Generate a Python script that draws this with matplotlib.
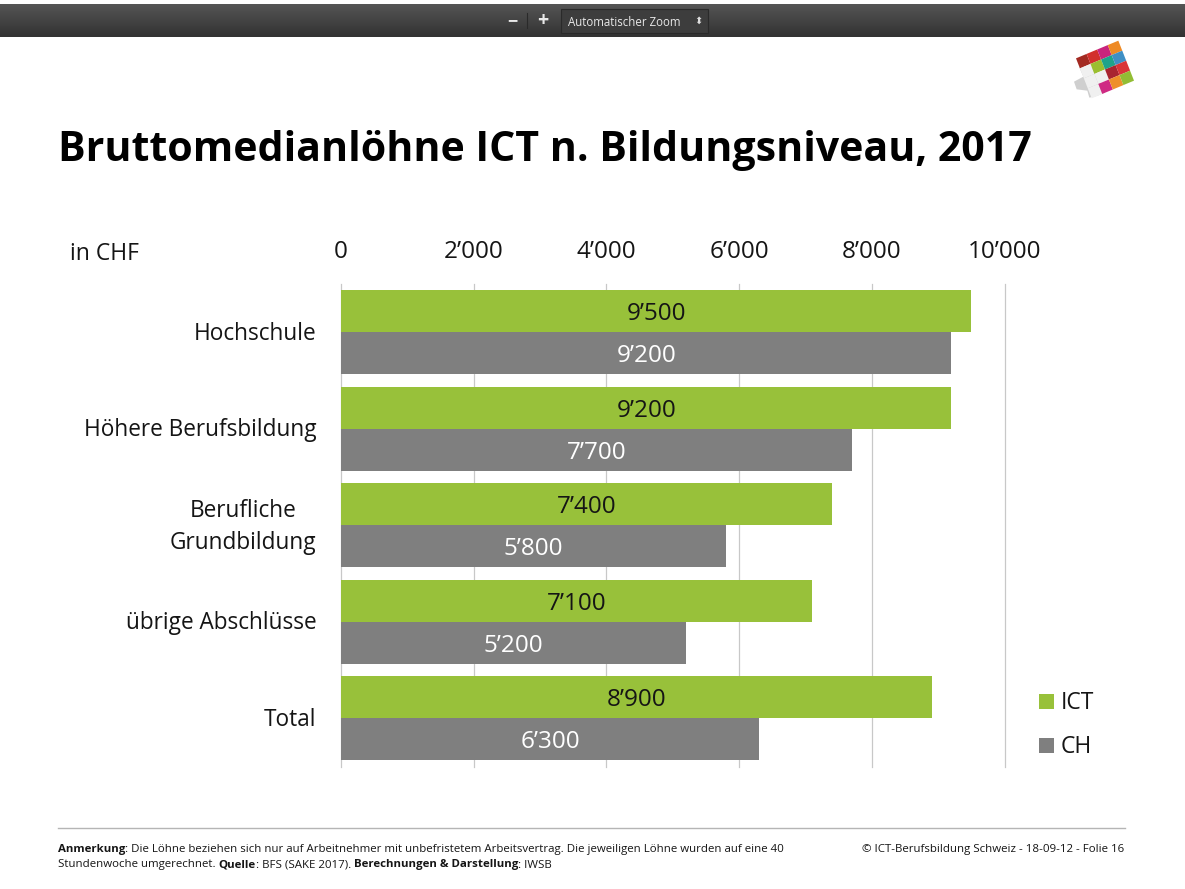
import matplotlib
matplotlib.use("Agg")

import matplotlib.pyplot as plt
from matplotlib.patches import Polygon, Rectangle
from matplotlib.transforms import ScaledTranslation
import numpy as np

categories = ["Hochschule", "Höhere Berufsbildung", "Berufliche\nGrundbildung", "übrige Abschlüsse", "Total"]
ict_values = [9500, 9200, 7400, 7100, 8900]
ch_values = [9200, 7700, 5800, 5200, 6300]
x_ticks = [0, 2000, 4000, 6000, 8000, 10000]

GREEN = "#98c13a"
GRAY = "#7f7f7f"
INK = "#151515"
W, H = 1185, 889

# logo colours, 4x4 grid on a tilted face (None stays white)
logo_colors = [
    ["#a32a22", "#d22f2c", "#c9247d", "#ee8a24"],
    [None, "#9bbf2f", "#1fa38a", "#3f8fc4"],
    [None, None, "#a82430", "#d93438"],
    [None, "#cf2a83", "#ee8f2a", "#92bd34"],
]


def fmt(v):
    return f"{v:,}".replace(",", "’")


def px(x, y):
    # pixel position (top left origin) to figure coords
    return x / W, 1 - y / H


def zoom_px(zx, zy):
    # logo was measured on a 3x crop starting at (1050, 30)
    return px(1050 + zx / 3, 30 + zy / 3)


fig = plt.figure(figsize=(W / 100, H / 100), dpi=100, facecolor="white")
plt.rcParams["font.family"] = ["Open Sans", "DejaVu Sans"]

# viewer toolbar
bar = fig.add_axes([0, 1 - 37 / H, 1, 33 / H])
bar.imshow(np.linspace(0.33, 0.2, 32).reshape(-1, 1), cmap="gray", vmin=0, vmax=1, aspect="auto")
bar.axis("off")
fig.add_artist(Rectangle(px(561, 33), 147 / W, 24 / H, transform=fig.transFigure,
                         facecolor="#3d3d3d", edgecolor="#2a2a2a", linewidth=0.8))
fig.add_artist(plt.Line2D([527 / W, 527 / W], [1 - 13 / H, 1 - 28 / H], color="#2a2a2a", linewidth=0.8))
fig.text(*px(512, 21), "−", color="#e8e8e8", fontsize=13, fontweight="bold", ha="center", va="center")
fig.text(*px(543, 21), "+", color="#e8e8e8", fontsize=14, fontweight="bold", ha="center", va="center")
fig.text(*px(568, 22.5), "Automatischer Zoom", color="#e8e8e8", fontsize=8.3, ha="left", va="center")
fig.text(*px(698, 21), "⬍", color="#dddddd", fontsize=7, ha="center", va="center", family="DejaVu Sans")

# logo: grey side, white cross, coloured grid
side = [(88, 112), (100, 140), (72, 155), (80, 178), (112, 182), (118, 203), (140, 198), (165, 188), (130, 110)]
fig.add_artist(Polygon([zoom_px(*p) for p in side], closed=True, transform=fig.transFigure,
                       facecolor="#cfcfcf", edgecolor="none"))
corner_a = np.array([78.0, 85.0])
along = (np.array([205.0, 32.0]) - corner_a) / 4
down = (np.array([125.0, 205.0]) - corner_a) / 4
for r, row in enumerate(logo_colors):
    for c, col in enumerate(row):
        p0 = corner_a + along * c + down * r
        pts = [p0, p0 + along, p0 + along + down, p0 + down]
        fig.add_artist(Polygon([zoom_px(*p) for p in pts], closed=True, transform=fig.transFigure,
                               facecolor=col or "#f0f0f0", edgecolor="none"))

fig.text(*px(58, 150.5), "Bruttomedianlöhne ICT n. Bildungsniveau, 2017", fontsize=29.65,
         fontweight="bold", color="black", ha="left", va="center")

# chart
ax = fig.add_axes([341 / W, 1 - 766.5 / H, (1004.5 - 341) / W, (766.5 - 284) / H])
y = np.arange(len(categories))
bar_h = 0.435
ax.barh(y - bar_h / 2, ict_values, height=bar_h, color=GREEN, zorder=3)
ax.barh(y + bar_h / 2, ch_values, height=bar_h, color=GRAY, zorder=3)

for i in range(len(categories)):
    ax.annotate(fmt(ict_values[i]), (ict_values[i] / 2, y[i] - bar_h / 2), xytext=(0, -2.2),
                textcoords="offset points", color=INK, fontsize=17.5, ha="center", va="center", zorder=4)
    ax.annotate(fmt(ch_values[i]), (ch_values[i] / 2, y[i] + bar_h / 2), xytext=(0, -2.2),
                textcoords="offset points", color="white", fontsize=17.5, ha="center", va="center", zorder=4)

ax.set_xlim(0, 10000)
ax.set_ylim(len(categories) - 0.5, -0.5)
ax.xaxis.tick_top()
ax.set_xticks(x_ticks)
ax.set_xticklabels([fmt(v) for v in x_ticks], fontsize=17.5, color=INK)
ax.set_yticks(y)
ax.set_yticklabels(categories, fontsize=16.3, color=INK, linespacing=1.45)
ax.tick_params(axis="x", length=0, pad=14.2)
ax.tick_params(axis="y", length=0, pad=17.5)
for lab in ax.get_yticklabels():
    lab.set_multialignment("center")
    # two line label sits a bit higher in the reference
    dy = 3.8 if "\n" in lab.get_text() else 1.2
    lab.set_transform(lab.get_transform() + ScaledTranslation(0, dy / 72, fig.dpi_scale_trans))
ax.grid(axis="x", color="#c8c8c8", linewidth=0.9, zorder=0, clip_on=False)
for s in ax.spines.values():
    s.set_visible(False)
ax.patch.set_alpha(0)

fig.text(*px(70, 254), "in CHF", fontsize=16.5, color=INK, ha="left", va="center")

# legend
for label, col, yp in [("ICT", GREEN, 701), ("CH", GRAY, 745)]:
    fig.add_artist(Rectangle(px(1039, yp + 7.5), 15 / W, 15 / H, transform=fig.transFigure,
                             facecolor=col, edgecolor="none"))
    fig.text(*px(1061, yp + 2), label, fontsize=16.5, color=INK, ha="left", va="center")

# footer
fig.add_artist(plt.Line2D([58 / W, 1125 / W], [1 - 828 / H, 1 - 828 / H], color="#b5b5b5", linewidth=1))
fs = 8.25
foot_1 = [("Anmerkung", "bold"), (": Die Löhne beziehen sich nur auf Arbeitnehmer mit unbefristetem Arbeitsvertrag. Die jeweiligen Löhne wurden auf eine 40", "normal")]
foot_2 = [("Stundenwoche umgerechnet. ", "normal"), ("Quelle", "bold"), (": BFS (SAKE 2017). ", "normal"),
          ("Berechnungen & Darstellung", "bold"), (": IWSB", "normal")]
renderer = fig.canvas.get_renderer()
for parts, yp in [(foot_1, 849.5), (foot_2, 865)]:
    xp = 58
    for txt, weight in parts:
        t = fig.text(*px(xp, yp), txt, fontsize=fs, fontweight=weight, color=INK, ha="left", va="center")
        xp += t.get_window_extent(renderer).width
fig.text(*px(1124, 849.5), "© ICT-Berufsbildung Schweiz - 18-09-12 - Folie 16", fontsize=fs, color=INK,
         ha="right", va="center")

fig.savefig("out.png", dpi=100)
